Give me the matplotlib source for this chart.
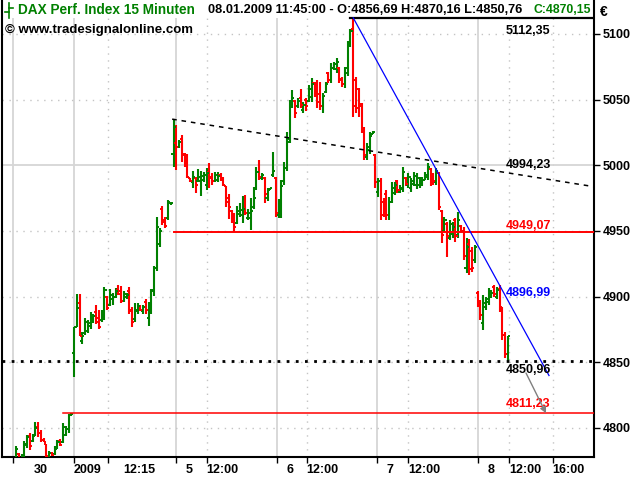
import numpy as np
import matplotlib
matplotlib.use('Agg')
import matplotlib.pyplot as plt
from matplotlib.lines import Line2D
from matplotlib.patches import Rectangle

plt.rcParams['font.family'] = ['Liberation Sans', 'DejaVu Sans']

# ---------------------------------------------------------------------------
# DAX 15-minute OHLC bars, 30.12.2008 - 08.01.2009 11:45 (one row per day)
# ---------------------------------------------------------------------------
opens = [
    # 30.12.
    4776, 4780, 4777, 4779, 4787, 4794, 4790, 4795, 4801, 4796, 4791, 4788, 4778, 4781, 4780, 4785, 4790, 4789, 4795, 4799, 4810,
    # 02.01.
    4857, 4877, 4895, 4866, 4872, 4874, 4878, 4882, 4888, 4884, 4882, 4886, 4900, 4894, 4898, 4900, 4905, 4904, 4897, 4900,
    4904, 4890, 4883, 4889, 4893, 4889, 4896, 4884, 4889, 4904, 4922, 4940, 4967, 4958, 4960, 4971,
    # 05.01.
    5009, 5017, 5014, 5020, 5008, 5001, 4990, 4987, 4990, 4988, 4988, 4989, 4985, 4995, 4991, 4988, 4989, 4993, 4990, 4984,
    4975, 4965, 4962, 4956, 4963, 4962, 4967, 4960, 4960, 4968, 4983, 4995, 4990, 4990, 4975, 4981,
    # 06.01.
    4993, 4990, 4962, 4968, 4988, 4998, 5020, 5046, 5049, 5045, 5051, 5042, 5050, 5049, 5052, 5063, 5062, 5054, 5045, 5056,
    5070, 5065, 5074, 5073, 5074, 5066, 5062, 5070, 5092, 5104, 5065, 5058, 5047, 5028, 5006, 5012, 5024,
    # 07.01.
    5008, 4980, 4988, 4972, 4978, 4962, 4972, 4979, 4988, 4980, 4982, 4990, 4985, 4983, 4986, 4985, 4985, 4986, 4989, 4991,
    4997, 4993, 4987, 4994, 4965, 4950, 4955, 4945, 4948, 4958, 4947, 4954, 4950, 4922, 4940, 4935, 4928,
    # 08.01.
    4903, 4896, 4880, 4892, 4896, 4900, 4907, 4900, 4906, 4891, 4871, 4856.69,
]
highs = [
    4786, 4781, 4780, 4790, 4795, 4796, 4795.5, 4804.6, 4804.6, 4798.5, 4792, 4788, 4782.5, 4782, 4786, 4791, 4791.6, 4803.8, 4801.5, 4810.6, 4811.23,
    4877, 4902, 4902, 4873, 4884, 4882, 4888, 4887, 4894, 4890, 4890, 4907, 4900.5, 4906, 4903, 4906.6, 4909, 4908, 4904, 4903,
    4907, 4892, 4895, 4895, 4894, 4894, 4898, 4896, 4906, 4923, 4960.7, 4952, 4969, 4960.7, 4973.6, 4972,
    5035, 5031, 5019, 5023, 5009.4, 5009, 4990, 4996, 4991, 4997, 4996, 4995, 4998, 5002, 4994, 4995, 4995, 4994, 4991, 4984,
    4978, 4966, 4963.7, 4969, 4971, 4977, 4977.5, 4967, 4975, 4983.5, 4999, 5004, 4994, 4991, 4983, 4983,
    5010, 4991, 4974, 4989, 5002.5, 5025, 5050, 5057, 5049.7, 5051, 5058, 5048, 5051, 5061, 5066.5, 5063.5, 5065, 5063.5, 5055, 5063.5,
    5071, 5078, 5079, 5081.7, 5075, 5067, 5075, 5095, 5104, 5112.35, 5067, 5059, 5047.5, 5029, 5017, 5025, 5026,
    5009, 4990, 4990, 4975, 4981, 4976, 4987, 4987, 4989, 4985, 4999, 4991, 4994, 4990, 4995, 4994, 4991, 4991, 4995, 5002,
    4998, 4994, 4998, 4995, 4966, 4961, 4957, 4958, 4957, 4960, 4964.5, 4954.5, 4953, 4944.5, 4944, 4938, 4939.5,
    4904, 4897.5, 4901, 4900, 4906.6, 4905, 4909, 4907, 4909, 4892, 4873, 4870.16,
]
lows = [
    4774, 4774, 4777, 4775, 4785, 4783, 4789, 4794, 4793, 4789, 4789, 4776, 4775, 4779, 4779.5, 4784, 4786, 4788.6, 4794, 4796, 4809,
    4839, 4877, 4870, 4864, 4871, 4872, 4875, 4880, 4879, 4875, 4881, 4882, 4890, 4893, 4894, 4899, 4901, 4895, 4896, 4898,
    4887, 4877, 4881, 4887, 4889, 4887, 4887, 4878, 4887, 4900.5, 4919.6, 4938, 4954.5, 4952, 4958.4, 4970,
    4999, 4996.4, 5013, 5002.5, 4999, 4990, 4987, 4983, 4979, 4987, 4977, 4987, 4981, 4983, 4985, 4987, 4987, 4988, 4984, 4968,
    4959, 4956, 4949, 4955, 4960.7, 4956, 4962, 4958, 4951, 4967, 4981, 4989, 4989, 4971, 4973, 4981,
    4991, 4961, 4960, 4960, 4985, 4996, 5017, 5044, 5036, 5044, 5044, 5040, 5041, 5048, 5048, 5052, 5044, 5042, 5040, 5055,
    5063, 5062.7, 5072.6, 5070, 5062.7, 5060, 5059, 5068, 5090, 5037, 5040, 5037, 5024.6, 5004, 5004, 5009, 5024,
    4983, 4976, 4958, 4961, 4958, 4958, 4971, 4977.5, 4979, 4979, 4980, 4984, 4983, 4980, 4984, 4982, 4983, 4984, 4989, 4989,
    4984, 4985, 4985, 4966, 4941, 4949, 4930, 4943, 4945, 4942, 4945, 4949, 4928, 4918, 4916.5, 4919, 4926,
    4892, 4882, 4874.6, 4890, 4894, 4899, 4900, 4898, 4888, 4867, 4853, 4850.76,
]
closes = [
    4784, 4776, 4779, 4788, 4793, 4786, 4794, 4800, 4796, 4791, 4789.5, 4779, 4781, 4779.5, 4784, 4789, 4787, 4801, 4799, 4810, 4810.5,
    4877, 4891, 4870, 4870, 4881, 4880, 4886, 4885, 4881, 4877, 4887, 4905, 4891, 4901, 4900, 4904, 4902, 4897, 4902, 4901,
    4889, 4881, 4890, 4893, 4890, 4892, 4890, 4890, 4905, 4922, 4953, 4950, 4957, 4954, 4972, 4971.5,
    5029, 5014, 5018, 5009, 5001, 4991, 4988, 4991, 4985, 4991, 4992, 4993, 4994, 4990, 4988, 4993, 4992, 4990, 4985, 4972,
    4968, 4960, 4953, 4965, 4966, 4967, 4964, 4964, 4965, 4975, 4995, 4991, 4993, 4978, 4982, 4982.5,
    4996, 4964, 4968, 4984, 4998, 5018, 5045, 5051, 5040, 5049, 5046, 5046, 5045, 5058, 5062, 5054, 5048, 5045, 5053, 5062,
    5065, 5074, 5077, 5079, 5065, 5062, 5074, 5092, 5102, 5045, 5044, 5045, 5028, 5008, 5014, 5022, 5025,
    4987, 4988, 4962, 4965, 4962, 4972, 4983, 4985, 4981, 4983, 4995, 4986, 4991, 4988, 4992, 4990, 4989, 4989, 4993, 4999,
    4987, 4988, 4996, 4968, 4947, 4958, 4946, 4955, 4953, 4946, 4958, 4950, 4931, 4938, 4921, 4922, 4938,
    4895, 4886, 4895, 4898, 4904, 4903, 4902, 4905, 4892, 4871, 4856.69, 4870.15,
]
day_starts = [0, 21, 57, 93, 130, 167]

# drawing tool values shown on the chart
high_level = 5112.35
trend_now = 4994.23      # dashed resistance line, value at last bar
support_level = 4949.07
blue_now = 4896.99       # blue down trend, value at last bar
low_level = 4850.96
target_level = 4811.23

y_ticks = [4800, 4850, 4900, 4950, 5000, 5050, 5100]
x_labels = ['30', '2009', '12:15', '5', '12:00', '6', '12:00', '7', '12:00', '8', '12:00', '16:00']

# ---------------------------------------------------------------------------
W, H = 640, 480
GREEN, RED = '#008000', '#ff0000'

fig = plt.figure(figsize=(W / 100, H / 100), dpi=100)
ax = fig.add_axes([2 / W, 23 / H, 592 / W, 457 / H])

opens, highs, lows, closes = map(np.array, (opens, highs, lows, closes))
n = len(closes)
x = np.arange(n)

# pixel <-> data helpers (bars sit between px 16 and px 508)
step = (508 - 16) / (n - 1)
def px2x(px):
    return (px - 16) / step

PPV = 1.3133  # pixels per index point
def py2v(py):
    return 5100 - (py - 34) / PPV

xmin, xmax = px2x(2), px2x(594)
ax.set_xlim(xmin, xmax)
ax.set_ylim(py2v(457), py2v(0))

# grid
day_px = [13, 74, 176, 277, 377, 478]
half_px = [108, 207, 307, 408, 509, 553]
for p in day_px:
    ax.axvline(px2x(p), color='#d6d6d6', lw=1.3, zorder=0)
for p in half_px:
    ax.axvline(px2x(p), color='#c4c4c4', lw=1.0, ls=(0, (1, 4)), zorder=0)
for v in y_ticks:
    if v == 5000:
        ax.axhline(v, color='#d6d6d6', lw=1.3, zorder=0)
    else:
        ax.axhline(v, color='#c4c4c4', lw=1.0, ls=(0, (1, 4)), zorder=0)

# white header band
ax.add_patch(Rectangle((0.0, py2v(18)), 0.995, py2v(0) - py2v(18),
                       transform=ax.get_yaxis_transform(), facecolor='white',
                       edgecolor='none', zorder=1))

# OHLC bars
cols = np.where(closes >= opens, GREEN, RED)
ax.vlines(x, lows, highs, colors=cols, lw=1.5, zorder=3)
ax.hlines(opens, x - 0.75, x, colors=cols, lw=1.4, zorder=3)
ax.hlines(closes, x, x + 0.75, colors=cols, lw=1.4, zorder=3)

last = n - 1
hi_idx = int(np.argmax(highs))

# horizontal levels
ax.plot([hi_idx - 1, xmax], [high_level, high_level], color='black', lw=1.6, zorder=4)
ax.plot([day_starts[2], xmax], [support_level, support_level], color=RED, lw=1.4, zorder=4)
ax.plot([day_starts[1] - 4, xmax], [target_level, target_level], color=RED, lw=1.1, zorder=4)
ax.plot([xmin, xmax], [low_level, low_level], color='black', lw=2.0,
        ls=(0, (1, 2.3)), zorder=4)

# dashed resistance line from the 05.01. opening high
t0 = day_starts[2]
slope = (trend_now - highs[t0]) / (last - t0)
ax.plot([t0 - 0.5, xmax], [highs[t0] - 0.5 * slope, trend_now + slope * (xmax - last)],
        color='black', lw=1.1, ls=(0, (3, 3.2)), zorder=4)

# blue down trend from the top
bslope = (blue_now - high_level) / (last - hi_idx)
b_end = px2x(549)
ax.plot([hi_idx, b_end], [high_level, blue_now + bslope * (b_end - last)],
        color='#0000ff', lw=0.9, zorder=4)

# value labels
lab_x = px2x(506)
for val, dy, col in [(high_level, -13, 'black'), (trend_now, 7.5, 'black'),
                     (support_level, 6, RED), (blue_now, 8, '#0000ff'),
                     (low_level, -9, 'black'), (target_level, 9, RED)]:
    ax.annotate(f'{val:.2f}'.replace('.', ','), xy=(lab_x, val), xytext=(0, dy),
                textcoords='offset pixels', ha='left', va='center',
                fontsize=9, fontweight='bold', color=col, zorder=5)

ax.annotate('', xy=(px2x(546), target_level), xytext=(px2x(526), py2v(373)),
            arrowprops=dict(arrowstyle='-|>', color='#808080', lw=1.0,
                            mutation_scale=9, shrinkA=0, shrinkB=0), zorder=5)

# axes styling
for s in ['left', 'right', 'bottom']:
    ax.spines[s].set_color('black')
    ax.spines[s].set_linewidth(1.5)
ax.spines['top'].set_visible(False)

ax.yaxis.tick_right()
ax.set_yticks(y_ticks)
ax.set_yticklabels([str(v) for v in y_ticks], fontsize=9, fontweight='bold')
ax.tick_params(axis='y', length=4, width=1, pad=2, right=True, left=False)

ax.set_xticks([px2x(p) for p in sorted(day_px + half_px)])
ax.tick_params(axis='x', length=4, width=1, labelbottom=False)

label_px = [40.5, 88, 139, 189, 222, 290, 322, 390, 424, 491, 525, 568.5]
for lab, p in zip(x_labels, label_px):
    fig.text(p / W, 1 - 470 / H, lab, ha='center', va='center',
             fontsize=9, fontweight='bold')

# header
fig.text(18 / W, 1 - 10 / H, 'DAX Perf. Index 15 Minuten', ha='left', va='center',
         fontsize=9.8, fontweight='bold', color=GREEN)
fig.text(208 / W, 1 - 10 / H, '08.01.2009 11:45:00 - O:4856,69 H:4870,16 L:4850,76',
         ha='left', va='center', fontsize=9.2, fontweight='bold', color='black')
fig.text(533 / W, 1 - 10 / H, 'C:4870,15', ha='left', va='center',
         fontsize=8.8, fontweight='bold', color=GREEN)
fig.text(5 / W, 1 - 30 / H, '\u00a9 www.tradesignalonline.com', ha='left', va='center',
         fontsize=9.5, fontweight='bold', color='black')
fig.text(600 / W, 1 - 12 / H, '\u20ac', ha='left', va='center',
         fontsize=10, fontweight='bold', color='black')

# small bar icon in the header
for xs, ys in [([9, 9], [3, 18]), ([5, 9], [12, 12]), ([9, 13], [8, 8])]:
    fig.add_artist(Line2D([v / W for v in xs], [1 - v / H for v in ys],
                          color=GREEN, lw=1.2, transform=fig.transFigure))

fig.savefig('out.png', dpi=100)
